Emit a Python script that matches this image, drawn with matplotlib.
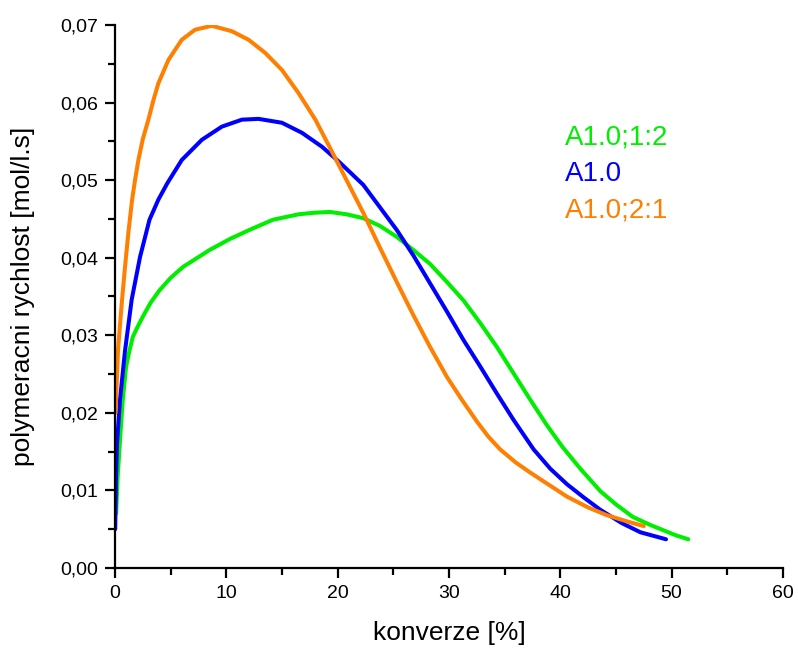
import matplotlib
matplotlib.use('Agg')
import matplotlib.pyplot as plt
from matplotlib.ticker import FuncFormatter, MultipleLocator

plt.rcParams['font.family'] = ['Liberation Sans', 'DejaVu Sans']

# A1.0;1:2 (green)
x_12 = [0.1, 0.25, 0.45, 0.7, 1.0, 1.3, 1.6, 2.0, 2.5, 3.2, 4.0, 5.0, 6.1, 7.3, 8.5, 10.3,
        12.1, 14.2, 16.5, 17.9, 19.3, 20.8, 22.3, 23.8, 25.3, 26.8, 28.3, 29.8, 31.3, 32.8,
        34.3, 35.8, 37.3, 38.8, 40.2, 41.8, 43.6, 45.0, 46.5, 48.0, 49.2, 50.4, 51.5]
y_12 = [0.007, 0.012, 0.0165, 0.0217, 0.026, 0.028, 0.0298, 0.031, 0.0324, 0.0342, 0.0358,
        0.0374, 0.0388, 0.0399, 0.041, 0.0424, 0.0436, 0.0449, 0.0456, 0.0458, 0.0459, 0.0456,
        0.0451, 0.0441, 0.0427, 0.041, 0.0392, 0.0369, 0.0345, 0.0316, 0.0285, 0.0251, 0.0217,
        0.0184, 0.0156, 0.0128, 0.0099, 0.0082, 0.0066, 0.0056, 0.0049, 0.0042, 0.0037]

# A1.0 (blue)
x_10 = [0.02, 0.08, 0.18, 0.45, 0.9, 1.5, 2.25, 3.1, 3.9, 4.7, 6.0, 7.8, 9.6, 11.4, 12.9,
        15.0, 16.8, 18.6, 20.1, 22.3, 23.8, 25.3, 26.8, 28.3, 29.8, 31.3, 32.8, 34.3, 35.8,
        37.6, 39.1, 40.6, 42.1, 43.6, 45.5, 47.2, 49.5]
y_10 = [0.005, 0.011, 0.016, 0.0217, 0.028, 0.0346, 0.0401, 0.0449, 0.0475, 0.0496, 0.0526,
        0.0552, 0.0569, 0.0578, 0.0579, 0.0574, 0.0561, 0.0543, 0.0524, 0.0494, 0.0465, 0.0436,
        0.0403, 0.0367, 0.0331, 0.0294, 0.026, 0.0225, 0.0191, 0.0153, 0.0128, 0.0108, 0.0091,
        0.0075, 0.0058, 0.0046, 0.0037]

# A1.0;2:1 (orange)
x_21 = [0.05, 0.27, 0.6, 0.9, 1.2, 1.53, 1.8, 2.1, 2.5, 3.0, 3.45, 3.9, 4.8, 6.0, 7.2, 8.7,
        10.5, 12.0, 13.5, 15.0, 16.5, 18.0, 19.3, 20.8, 22.3, 23.8, 25.3, 26.8, 28.3, 29.83,
        31.2, 32.5, 33.5, 34.59, 36.0, 37.3, 39.0, 40.6, 42.5, 44.2, 46.0, 47.5]
y_21 = [0.020, 0.0281, 0.034, 0.0388, 0.0432, 0.0474, 0.050, 0.0526, 0.0553, 0.0578, 0.0603,
        0.0625, 0.0655, 0.0681, 0.0694, 0.0699, 0.0692, 0.0681, 0.0664, 0.0642, 0.0612, 0.0578,
        0.0542, 0.05, 0.0458, 0.0413, 0.0369, 0.0326, 0.0285, 0.0246, 0.0216, 0.0189, 0.017,
        0.0153, 0.0136, 0.0123, 0.0107, 0.0092, 0.0078, 0.0068, 0.006, 0.0054]

series = [('A1.0;1:2', x_12, y_12, '#00ee00'),
          ('A1.0', x_10, y_10, '#0000ff'),
          ('A1.0;2:1', x_21, y_21, '#ff7f00')]

fig = plt.figure(figsize=(7.98, 6.5), dpi=100)
ax = fig.add_axes([0.1441, 0.1262, 0.837, 0.8353])

for name, xs, ys, c in series:
    ax.plot(xs, ys, color=c, lw=2.9, solid_joinstyle='round', solid_capstyle='round', label=name)

ax.set_xlim(0, 60)
ax.set_ylim(0, 0.07)
ax.xaxis.set_major_locator(MultipleLocator(10))
ax.xaxis.set_minor_locator(MultipleLocator(5))
ax.yaxis.set_major_locator(MultipleLocator(0.01))
ax.yaxis.set_minor_locator(MultipleLocator(0.005))
ax.yaxis.set_major_formatter(FuncFormatter(lambda v, p: ('%.2f' % v).replace('.', ',')))

for s in ['top', 'right']:
    ax.spines[s].set_visible(False)
for s in ['left', 'bottom']:
    ax.spines[s].set_linewidth(1.6)
ax.tick_params(which='major', direction='out', length=7, width=1.6, labelsize=14, pad=5)
ax.tick_params(which='minor', direction='out', length=5, width=1.6)

ax.set_xlabel('konverze [%]', fontsize=19, labelpad=14)
ax.set_ylabel('polymeracni rychlost [mol/l.s]', fontsize=19, labelpad=18)

# coloured labels instead of a legend box
for i, (name, xs, ys, c) in enumerate(series):
    ax.text(40.4, 0.0555 - i * 0.0047, name, color=c, fontsize=20, va='center', ha='left')

plt.savefig('out.png', dpi=100)
